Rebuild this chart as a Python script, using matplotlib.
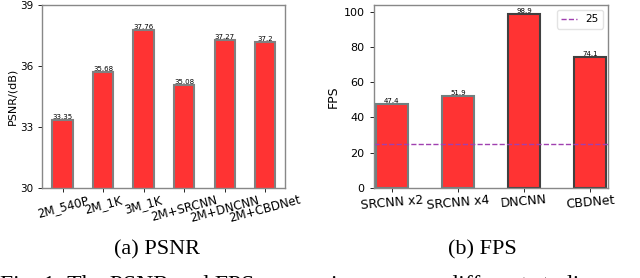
import matplotlib
matplotlib.use("Agg")
import matplotlib.pyplot as plt

psnr_labels = ["2M_540P", "2M_1K", "3M_1K", "2M+SRCNN", "2M+DNCNN", "2M+CBDNet"]
psnr_values = [33.35, 35.68, 37.76, 35.08, 37.27, 37.2]
psnr_ticks = [30, 33, 36, 39]

fps_labels = ["SRCNN x2", "SRCNN x4", "DNCNN", "CBDNet"]
fps_values = [47.4, 51.9, 98.9, 74.1]
fps_ticks = [0, 20, 40, 60, 80, 100]
fps_threshold = 25

fig = plt.figure(figsize=(6.4, 2.78), dpi=100)

bar_color = "#ff3333"

# Left: PSNR
ax1 = fig.add_axes([0.066, 0.324, 0.380, 0.658])
x1 = range(len(psnr_labels))
bars1 = ax1.bar(x1, psnr_values, width=0.5, color=bar_color,
                edgecolor="#808080", linewidth=1.5)
ax1.set_ylim(30, 39)
ax1.set_xlim(-0.5, 5.5)
ax1.set_yticks(psnr_ticks)
ax1.set_xticks(list(x1))
ax1.set_xticklabels(psnr_labels, rotation=15, fontsize=8.5)
ax1.tick_params(axis="y", labelsize=7.5, length=3, width=0.6)
ax1.tick_params(axis="x", length=3, width=0.6, pad=1)
ax1.set_ylabel("PSNR/(dB)", fontsize=8, labelpad=2)
for b, v in zip(bars1, psnr_values):
    ax1.text(b.get_x() + b.get_width() / 2, v, f"{v}", ha="center",
             va="bottom", fontsize=5)
for s in ax1.spines.values():
    s.set_color("#888888")
    s.set_linewidth(1.0)

# Right: FPS
ax2 = fig.add_axes([0.584, 0.324, 0.366, 0.658])
x2 = range(len(fps_labels))
edge2 = ["#708080", "#708080", "#404040", "#404040"]
bars2 = ax2.bar(x2, fps_values, width=0.48, color=bar_color,
                edgecolor=edge2, linewidth=1.5)
ax2.axhline(fps_threshold, color="#a040b0", linestyle="--", linewidth=1.0,
            label=str(fps_threshold))
ax2.set_xlim(-0.27, 3.27)
ax2.set_ylim(0, 103.8)
ax2.set_yticks(fps_ticks)
ax2.set_xticks(list(x2))
ax2.set_xticklabels(fps_labels, rotation=5, fontsize=9)
ax2.tick_params(axis="y", labelsize=8, length=3, width=0.6)
ax2.tick_params(axis="x", length=3, width=0.6, pad=1)
ax2.set_ylabel("FPS", fontsize=9, labelpad=3)
for b, v in zip(bars2, fps_values):
    ax2.text(b.get_x() + b.get_width() / 2, v, f"{v}", ha="center",
             va="bottom", fontsize=5)
for s in ax2.spines.values():
    s.set_color("#888888")
    s.set_linewidth(1.0)
leg = ax2.legend(loc="upper right", fontsize=7.5, handlelength=1.5,
                 borderpad=0.4, frameon=True)
leg.get_frame().set_edgecolor("#dddddd")

# Captions
fig.text(0.245, 0.086, "(a) PSNR", ha="center", va="baseline",
         fontsize=16, family="Liberation Serif")
fig.text(0.753, 0.086, "(b) FPS", ha="center", va="baseline",
         fontsize=16, family="Liberation Serif")
fig.text(0.0, -0.045, "Fig. 1: The PSNR and FPS comparison among different studies",
         ha="left", va="baseline", fontsize=17, family="Liberation Serif")

fig.savefig("out.png", dpi=100)
